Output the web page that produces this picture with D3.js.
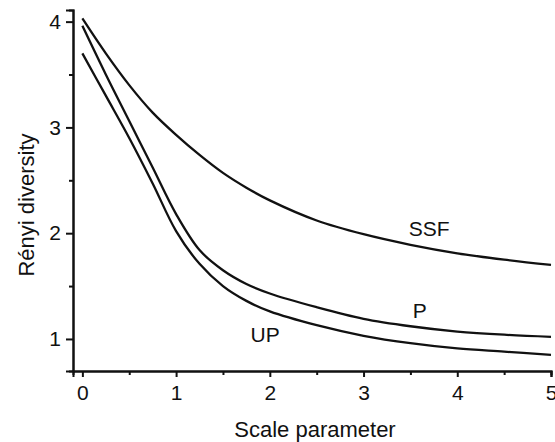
<!DOCTYPE html>
<html>
<head>
<meta charset="utf-8">
<script src="https://cdn.jsdelivr.net/npm/d3@7.9.0/dist/d3.min.js"></script>
<style>
  html, body { margin: 0; padding: 0; background: #fff; }
  svg text { font-family: Arial, "Liberation Sans", sans-serif; fill: #111; }
</style>
</head>
<body>
<svg id="chart" width="555" height="442"></svg>
<script>
// ====== DATA ======

const scaleParam = [0, 0.25, 0.5, 0.75, 1, 1.25, 1.5, 1.75, 2, 2.5, 3, 3.5, 4, 4.5, 5];
const ssfValues = [4.03, 3.70, 3.40, 3.14, 2.93, 2.74, 2.57, 2.43, 2.31, 2.12, 1.99, 1.89, 1.81, 1.75, 1.70];
const pValues   = [3.96, 3.50, 3.06, 2.62, 2.18, 1.84, 1.65, 1.52, 1.43, 1.30, 1.19, 1.12, 1.07, 1.04, 1.02];
const upValues  = [3.70, 3.30, 2.90, 2.47, 2.02, 1.71, 1.50, 1.36, 1.26, 1.13, 1.03, 0.96, 0.91, 0.88, 0.85];

const seriesNames = ['SSF', 'P', 'UP'];
// where each curve label sits (data units)
const labelPos = [[3.70, 1.97], [3.60, 1.20], [1.95, 0.97]];

const xTicks = [0, 1, 2, 3, 4, 5];
const yTicks = [1, 2, 3, 4];

// ====== SCALES ======

const svg = d3.select('#chart');

const x = d3.scaleLinear().domain([-0.1, 5]).range([73, 551]);
const y = d3.scaleLinear().domain([0.697, 4.11]).range([371, 10]);

// ====== AXES ======

function drawAxes() {
  const xAxis = d3.axisBottom(x).tickValues(xTicks).tickSize(6).tickPadding(8).tickFormat(d3.format('d'));
  const xMinor = d3.axisBottom(x).tickValues(d3.range(0.5, 5, 1)).tickSize(4).tickFormat('');
  const yAxis = d3.axisLeft(y).tickValues(yTicks).tickSize(7).tickPadding(5).tickFormat(d3.format('d'));
  const yMinor = d3.axisLeft(y).tickValues(d3.range(1.5, 4, 1)).tickSize(4).tickFormat('');

  const gx = svg.append('g').attr('transform', 'translate(0,371)');
  gx.call(xAxis);
  gx.append('g').call(xMinor);

  const gy = svg.append('g').attr('transform', 'translate(73,0)');
  gy.call(yAxis);
  gy.append('g').call(yMinor);

  svg.selectAll('.domain').attr('stroke', '#111').attr('stroke-width', 2);
  svg.selectAll('.tick line').attr('stroke', '#111').attr('stroke-width', 2);
  svg.selectAll('.tick text').style('font-size', '21px');

  // drop the minor axis domain paths so they don't double up
  gx.select('g').select('.domain').remove();
  gy.select('g').select('.domain').remove();

  svg.append('text')
    .attr('x', 315)
    .attr('y', 437)
    .attr('text-anchor', 'middle')
    .style('font-size', '22px')
    .text('Scale parameter');

  svg.append('text')
    .attr('transform', 'translate(34,205) rotate(-90)')
    .attr('text-anchor', 'middle')
    .style('font-size', '22px')
    .text('Rényi diversity');
}

// ====== CURVES ======

function drawCurves() {
  const allSeries = [ssfValues, pValues, upValues];
  const line = d3.line()
    .x((d) => x(d[0]))
    .y((d) => y(d[1]))
    .curve(d3.curveCatmullRom.alpha(0.5));

  allSeries.forEach((vals, i) => {
    const pts = scaleParam.map((s, j) => [s, vals[j]]);
    svg.append('path')
      .datum(pts)
      .attr('fill', 'none')
      .attr('stroke', '#111')
      .attr('stroke-width', 2.3)
      .attr('d', line);

    svg.append('text')
      .attr('x', x(labelPos[i][0]))
      .attr('y', y(labelPos[i][1]))
      .attr('text-anchor', 'middle')
      .style('font-size', '21px')
      .text(seriesNames[i]);
  });
}

drawAxes();
drawCurves();
</script>
</body>
</html>
